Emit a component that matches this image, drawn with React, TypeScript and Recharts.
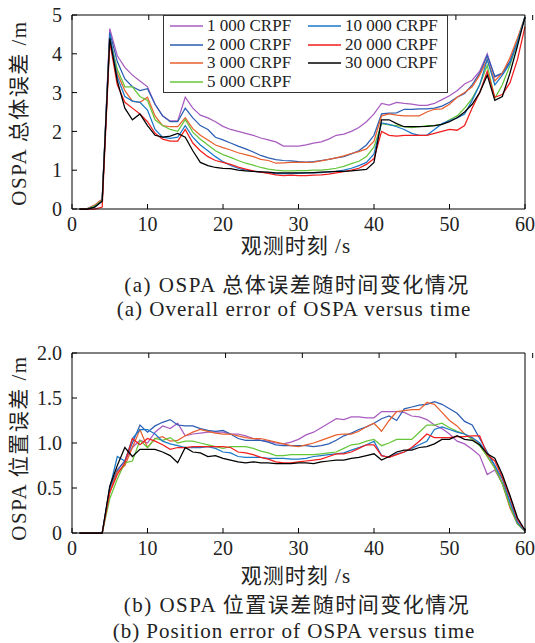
import React from "react";
import { LineChart, Line, XAxis, YAxis, Legend } from "recharts";

// time steps (s)
const seconds = Array.from({ length: 60 }, (_, i) => i + 1);

const seriesKeys = ["p1000", "p2000", "p3000", "p5000", "p10000", "p20000", "p30000"];
const seriesNames = ["1 000 CRPF", "2 000 CRPF", "3 000 CRPF", "5 000 CRPF", "10 000 CRPF", "20 000 CRPF", "30 000 CRPF"];
const seriesColors = ["#A85CC0", "#2B5DB3", "#E8602E", "#66C63A", "#1B78C9", "#F21D1D", "#000000"];

const xTicks = [0, 10, 20, 30, 40, 50, 60];
const totalTicks = [0, 1, 2, 3, 4, 5];
const positionTicks = [0, 0.5, 1, 1.5, 2];

// (a) overall OSPA error
const total1000 = [0, 0.01, 0.1, 0.25, 4.65, 3.95, 3.65, 3.45, 3.3, 3.15, 2.7, 2.4, 2.27, 2.27, 2.88, 2.6, 2.42, 2.35, 2.25, 2.13, 2.05, 2.0, 1.95, 1.9, 1.83, 1.78, 1.73, 1.62, 1.62, 1.62, 1.65, 1.7, 1.73, 1.8, 1.9, 1.93, 2.0, 2.1, 2.25, 2.45, 2.72, 2.68, 2.75, 2.72, 2.7, 2.67, 2.67, 2.72, 2.82, 2.92, 3.05, 3.22, 3.32, 3.55, 4.0, 3.4, 3.5, 3.8, 4.35, 4.95];
const total2000 = [0, 0, 0.08, 0.22, 4.55, 3.8, 3.35, 3.15, 3.05, 3.1, 2.7, 2.4, 2.25, 2.25, 2.6, 2.35, 2.15, 2.05, 1.85, 1.78, 1.7, 1.62, 1.55, 1.47, 1.38, 1.32, 1.27, 1.25, 1.24, 1.22, 1.21, 1.22, 1.25, 1.28, 1.32, 1.35, 1.42, 1.5, 1.65, 1.9, 2.45, 2.47, 2.48, 2.57, 2.57, 2.58, 2.58, 2.6, 2.65, 2.75, 2.88, 2.98, 3.2, 3.5, 3.95, 3.42, 3.5, 3.8, 4.3, 4.95];
const total3000 = [0, 0, 0.1, 0.25, 4.45, 3.5, 3.05, 2.78, 2.75, 2.88, 2.4, 2.15, 2.12, 2.12, 2.35, 2.07, 1.9, 1.78, 1.65, 1.58, 1.52, 1.45, 1.4, 1.35, 1.28, 1.25, 1.18, 1.19, 1.2, 1.2, 1.2, 1.21, 1.24, 1.28, 1.32, 1.37, 1.43, 1.48, 1.55, 1.75, 2.4, 2.45, 2.42, 2.4, 2.4, 2.4, 2.5, 2.57, 2.58, 2.7, 2.88, 3.0, 3.15, 3.45, 3.85, 3.3, 3.5, 3.9, 4.4, 4.95];
const total5000 = [0, 0, 0.08, 0.22, 4.4, 3.6, 3.15, 3.15, 2.9, 2.8, 2.3, 2.15, 2.05, 2.0, 2.3, 1.98, 1.8, 1.65, 1.5, 1.4, 1.33, 1.25, 1.18, 1.13, 1.07, 1.03, 1.0, 0.98, 0.98, 0.99, 0.99, 1.0, 1.0, 1.02, 1.05, 1.1, 1.17, 1.23, 1.35, 1.6, 2.2, 2.17, 2.15, 2.12, 2.1, 2.12, 2.15, 2.15, 2.18, 2.3, 2.4, 2.6, 2.85, 3.2, 3.7, 2.85, 3.2, 3.7, 4.3, 4.95];
const total10000 = [0, 0, 0.05, 0.2, 4.5, 3.4, 2.9, 2.78, 2.75, 2.55, 2.05, 1.85, 1.82, 1.85, 2.15, 1.85, 1.65, 1.5, 1.35, 1.22, 1.12, 1.05, 1.0, 0.97, 0.95, 0.93, 0.91, 0.91, 0.91, 0.92, 0.93, 0.93, 0.94, 0.96, 0.97, 1.0, 1.05, 1.12, 1.2, 1.42, 2.22, 2.18, 2.12, 2.05, 1.95, 1.9, 1.9, 2.05, 2.2, 2.28, 2.35, 2.45, 2.8, 3.2, 3.85, 3.2, 3.45, 3.75, 4.3, 4.95];
const total20000 = [0, 0, 0, 0.05, 4.3, 3.2, 2.75, 2.6, 2.45, 2.25, 1.95, 1.8, 1.75, 1.75, 2.05, 1.7, 1.5, 1.35, 1.25, 1.2, 1.15, 1.08, 1.03, 0.98, 0.95, 0.92, 0.88, 0.86, 0.87, 0.86, 0.86, 0.87, 0.88, 0.9, 0.93, 0.96, 1.0, 1.05, 1.15, 1.3, 2.0, 1.9, 1.88, 1.9, 1.9, 1.9, 1.9, 1.95, 2.0, 2.05, 2.03, 2.15, 2.6, 3.0, 3.55, 2.88, 2.95, 3.25, 3.85, 4.7];
const total30000 = [0, 0, 0.05, 0.2, 4.4, 3.3, 2.6, 2.3, 2.45, 2.15, 1.9, 1.85, 1.88, 1.95, 1.85, 1.5, 1.2, 1.12, 1.07, 1.05, 1.04, 1.0, 0.98, 0.97, 0.96, 0.95, 0.93, 0.93, 0.93, 0.93, 0.93, 0.94, 0.95, 0.96, 0.97, 0.97, 0.98, 1.0, 1.02, 1.2, 2.3, 2.3, 2.2, 2.12, 2.12, 2.12, 2.13, 2.15, 2.18, 2.25, 2.35, 2.5, 2.7, 3.0, 3.45, 2.8, 2.9, 3.5, 4.2, 4.95];

// (b) OSPA position error
const pos1000 = [0, 0, 0, 0, 0.45, 0.7, 0.8, 0.95, 1.03, 1.0, 1.12, 1.19, 1.16, 1.22, 1.08, 1.1, 1.11, 1.12, 1.12, 1.12, 1.1, 1.1, 1.08, 1.05, 1.03, 1.02, 1.0, 0.99, 1.01, 1.04, 1.09, 1.12, 1.17, 1.22, 1.27, 1.26, 1.29, 1.29, 1.28, 1.28, 1.35, 1.35, 1.35, 1.34, 1.3, 1.29, 1.26, 1.2, 1.16, 1.1, 1.02, 0.99, 0.93, 0.86, 0.65, 0.7, 0.55, 0.35, 0.12, 0.02];
const pos2000 = [0, 0, 0, 0, 0.5, 0.7, 0.8, 1.0, 1.2, 1.12, 1.19, 1.23, 1.26, 1.2, 1.19, 1.19, 1.16, 1.14, 1.13, 1.14, 1.1, 1.05, 1.03, 1.03, 1.03, 1.01, 0.98, 0.97, 0.97, 0.97, 0.97, 0.96, 0.97, 0.99, 1.03, 1.08, 1.11, 1.15, 1.18, 1.22, 1.27, 1.3, 1.25, 1.38, 1.4, 1.42, 1.43, 1.46, 1.43, 1.38, 1.33, 1.24, 1.2, 1.05, 0.9, 0.75, 0.55, 0.3, 0.1, 0.02];
const pos3000 = [0, 0, 0, 0, 0.45, 0.68, 0.75, 0.95, 1.15, 0.95, 1.05, 1.07, 1.02, 1.03, 1.08, 1.12, 1.15, 1.13, 1.11, 1.1, 1.1, 1.08, 1.06, 1.05, 1.05, 1.03, 1.01, 0.99, 0.97, 0.96, 0.98, 1.0, 1.03, 1.06, 1.09, 1.1, 1.1, 1.13, 1.18, 1.22, 1.13, 1.25, 1.35, 1.36, 1.37, 1.37, 1.45, 1.43, 1.34, 1.25, 1.19, 1.1, 1.05, 0.98, 0.85, 0.72, 0.55, 0.28, 0.1, 0.02];
const pos5000 = [0, 0, 0, 0, 0.38, 0.6, 0.78, 0.8, 1.03, 0.95, 1.05, 1.03, 1.06, 1.0, 1.02, 1.02, 1.0, 0.98, 0.96, 0.94, 0.96, 0.96, 0.96, 0.94, 0.91, 0.89, 0.86, 0.86, 0.87, 0.87, 0.87, 0.87, 0.88, 0.89, 0.9, 0.94, 0.98, 0.99, 1.02, 1.04, 0.97, 1.0, 1.04, 1.04, 1.04, 1.12, 1.2, 1.2, 1.22, 1.17, 1.13, 1.1, 1.04, 0.97, 0.85, 0.72, 0.55, 0.3, 0.1, 0.02];
const pos10000 = [0, 0, 0, 0, 0.5, 0.85, 0.8, 1.05, 1.15, 1.15, 1.1, 1.02, 0.99, 0.97, 0.95, 0.95, 0.95, 0.96, 0.94, 0.9, 0.89, 0.85, 0.84, 0.84, 0.84, 0.83, 0.83, 0.83, 0.82, 0.82, 0.83, 0.85, 0.86, 0.87, 0.88, 0.89, 0.92, 0.95, 0.98, 1.02, 0.86, 0.84, 0.88, 0.9, 0.94, 0.98, 1.02, 1.15, 1.18, 1.15, 1.12, 1.1, 1.06, 1.0, 0.88, 0.75, 0.6, 0.35, 0.12, 0.02];
const pos20000 = [0, 0, 0, 0, 0.45, 0.65, 0.78, 1.05, 0.98, 1.05, 1.02, 0.98, 0.93, 0.95, 0.95, 0.96, 0.96, 0.96, 0.96, 0.96, 0.95, 0.9, 0.89, 0.87, 0.84, 0.82, 0.79, 0.78, 0.78, 0.79, 0.8, 0.81, 0.82, 0.85, 0.88, 0.88, 0.9, 0.94, 0.98, 0.98, 0.86, 0.84, 0.87, 0.9, 0.95, 1.02, 1.1, 1.06, 1.06, 1.06, 1.07, 1.07, 1.08, 1.08, 0.87, 0.8, 0.62, 0.4, 0.15, 0.03];
const pos30000 = [0, 0, 0, 0, 0.52, 0.75, 0.95, 0.85, 0.93, 0.93, 0.93, 0.9, 0.86, 0.78, 0.95, 0.9, 0.89, 0.85, 0.86, 0.83, 0.81, 0.79, 0.78, 0.79, 0.78, 0.78, 0.77, 0.77, 0.77, 0.78, 0.78, 0.77, 0.79, 0.8, 0.81, 0.81, 0.83, 0.84, 0.86, 0.88, 0.81, 0.85, 0.9, 0.92, 0.92, 0.95, 0.96, 0.99, 1.04, 1.04, 1.08, 1.04, 1.03, 0.98, 0.88, 0.83, 0.65, 0.42, 0.17, 0.03];

const totalSeries = [total1000, total2000, total3000, total5000, total10000, total20000, total30000];
const positionSeries = [pos1000, pos2000, pos3000, pos5000, pos10000, pos20000, pos30000];

const buildRows = (series: number[][]) =>
  seconds.map((t, i) => {
    const row: Record<string, number> = { t };
    seriesKeys.forEach((k, j) => (row[k] = series[j][i]));
    return row;
  });

const totalData = buildRows(totalSeries);
const positionData = buildRows(positionSeries);

const FONT = "'Liberation Serif', 'Noto Sans CJK SC', serif";
const INK = "#222";

function LegendBox() {
  return (
    <div
      style={{
        position: "relative",
        width: 285,
        height: 78,
        boxSizing: "border-box",
        border: "1px solid #333",
        background: "#fff",
        fontFamily: FONT,
        color: INK,
      }}
    >
      {seriesNames.map((name, i) => {
        const col = i < 4 ? 0 : 1;
        const row = i < 4 ? i : i - 4;
        return (
          <div
            key={name}
            style={{
              position: "absolute",
              left: col === 0 ? 6 : 144,
              top: row * 18.6,
              height: 20,
              display: "flex",
              alignItems: "center",
            }}
          >
            <svg width={33} height={4}>
              <line x1={0} y1={2} x2={33} y2={2} stroke={seriesColors[i]} strokeWidth={1.4} />
            </svg>
            <span style={{ marginLeft: 4, fontSize: 17, lineHeight: "20px", whiteSpace: "nowrap" }}>{name}</span>
          </div>
        );
      })}
    </div>
  );
}

interface ErrorChartProps {
  data: Record<string, number>[];
  height: number;
  yMax: number;
  yTicks: number[];
  yFormat: (v: number) => string;
  legend?: boolean;
}

const ErrorChart: React.FC<ErrorChartProps> = ({ data, height, yMax, yTicks, yFormat, legend }) => {
  return (
    <LineChart
      width={535}
      height={height}
      data={data}
      margin={{ top: 15, right: 10, bottom: 0, left: 0 }}
      style={{ fontFamily: FONT, overflow: "visible" }}
    >
      <XAxis
        dataKey="t"
        type="number"
        domain={[0, 60]}
        ticks={xTicks}
        interval={0}
        height={51}
        tickSize={-5}
        tickMargin={13}
        stroke="#000"
        tick={{ fill: INK, fontSize: 20 }}
      />
      <XAxis
        xAxisId="top"
        orientation="top"
        mirror
        type="number"
        domain={[0, 60]}
        ticks={xTicks}
        interval={0}
        tickSize={5}
        stroke="#000"
        tickFormatter={() => ""}
      />
      <YAxis
        type="number"
        domain={[0, yMax]}
        ticks={yTicks}
        interval={0}
        width={72}
        tickSize={-5}
        tickMargin={15}
        stroke="#000"
        tick={{ fill: INK, fontSize: 20 }}
        tickFormatter={yFormat}
      />
      <YAxis
        yAxisId="right"
        orientation="right"
        mirror
        type="number"
        domain={[0, yMax]}
        ticks={yTicks}
        interval={0}
        tickSize={5}
        stroke="#000"
        tickFormatter={() => ""}
      />
      {legend && (
        <Legend
          verticalAlign="middle"
          align="center"
          layout="horizontal"
          wrapperStyle={{ left: 163, top: 15, width: 285, height: 78 }}
          content={() => <LegendBox />}
        />
      )}
      {seriesKeys.map((k, i) => (
        <Line
          key={k}
          dataKey={k}
          name={seriesNames[i]}
          type="linear"
          stroke={seriesColors[i]}
          strokeWidth={1.25}
          dot={false}
          isAnimationActive={false}
        />
      ))}
    </LineChart>
  );
};

const textBase: React.CSSProperties = {
  position: "absolute",
  whiteSpace: "nowrap",
  fontFamily: FONT,
  color: INK,
  lineHeight: "24px",
};

function Centered({ x, y, size, spacing, children }: { x: number; y: number; size: number; spacing: number; children: React.ReactNode }) {
  return (
    <div style={{ ...textBase, left: x, top: y - 12, fontSize: size, letterSpacing: spacing, transform: "translateX(-50%)" }}>
      {children}
    </div>
  );
}

function Vertical({ x, y, children }: { x: number; y: number; children: React.ReactNode }) {
  return (
    <div
      style={{
        ...textBase,
        left: x,
        top: y,
        fontSize: 21,
        letterSpacing: 1.5,
        transform: "translate(-50%, -50%) rotate(-90deg)",
      }}
    >
      {children}
    </div>
  );
}

export default function App() {
  return (
    <div style={{ position: "absolute", left: 0, top: 0, width: 535, height: 643, background: "#fff" }}>
      <div style={{ position: "absolute", left: 0, top: 0 }}>
        <ErrorChart data={totalData} height={260} yMax={5} yTicks={totalTicks} yFormat={(v) => String(v)} legend />
      </div>
      <div style={{ position: "absolute", left: 0, top: 338 }}>
        <ErrorChart
          data={positionData}
          height={246}
          yMax={2}
          yTicks={positionTicks}
          yFormat={(v) => (v === 0 ? "0" : v.toFixed(1))}
        />
      </div>

      <Vertical x={19} y={113}>OSPA 总体误差 /m</Vertical>
      <Centered x={296} y={246} size={21} spacing={1}>观测时刻 /s</Centered>
      <Centered x={297} y={285} size={21} spacing={1.5}>(a) OSPA 总体误差随时间变化情况</Centered>
      <Centered x={294} y={309} size={21} spacing={1}>(a) Overall error of OSPA versus time</Centered>

      <Vertical x={19} y={448}>OSPA 位置误差 /m</Vertical>
      <Centered x={296} y={576} size={21} spacing={1}>观测时刻 /s</Centered>
      <Centered x={297} y={605} size={21} spacing={1.5}>(b) OSPA 位置误差随时间变化情况</Centered>
      <Centered x={294} y={631} size={21} spacing={1}>(b) Position error of OSPA versus time</Centered>
    </div>
  );
}
